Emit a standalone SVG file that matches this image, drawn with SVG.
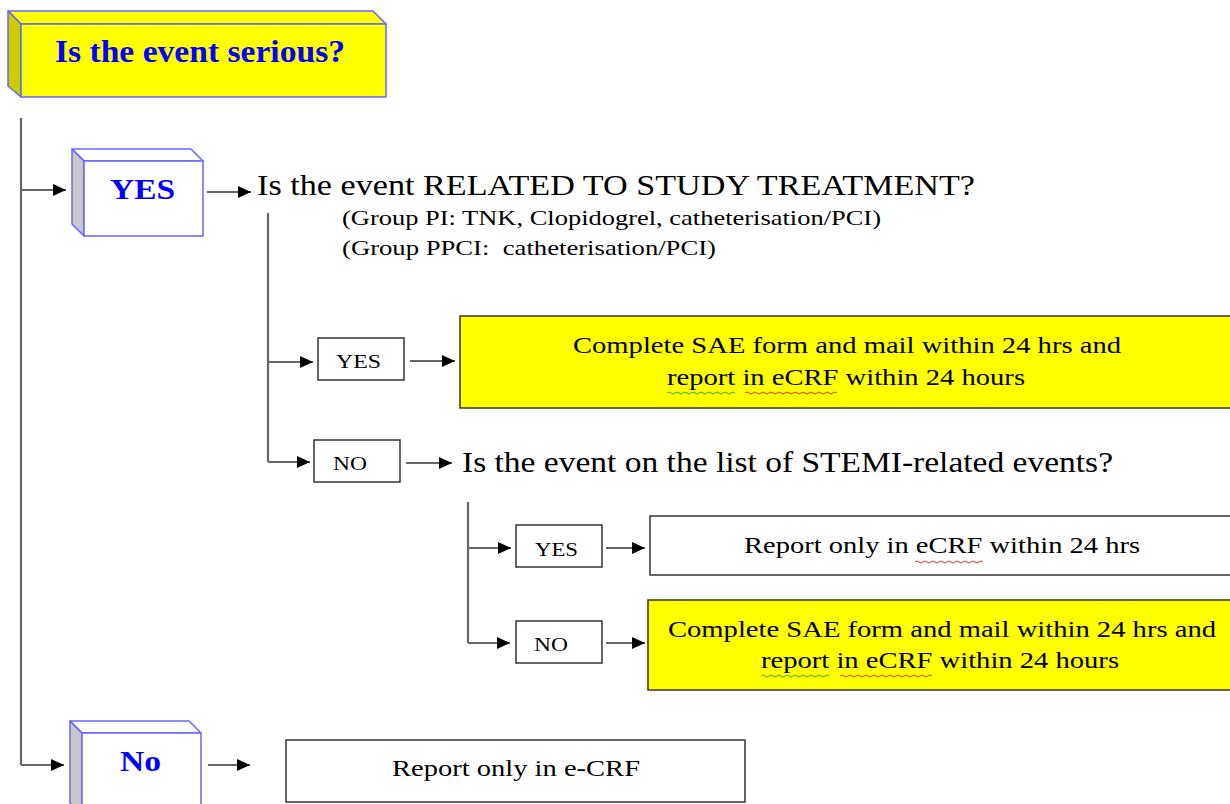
<svg xmlns="http://www.w3.org/2000/svg" width="1230" height="804" viewBox="0 0 1230 804">
<defs>
<style>
.t{font-family:"Liberation Serif","DejaVu Serif",serif;fill:#000}
.b{font-family:"Liberation Serif","DejaVu Serif",serif;font-weight:bold;fill:#0000ff}
.c{stroke:#666;stroke-width:2.2;fill:none}
.ca{stroke:#666;stroke-width:2.2;fill:none;marker-end:url(#ah)}
.bx{fill:#fff;stroke:#333;stroke-width:1.5}
.yb{fill:#ffff00;stroke:#333;stroke-width:1.5}
.f3{stroke:#6666ff;stroke-width:1.5;stroke-linejoin:round}
.sqr{fill:none;stroke:#e03030;stroke-width:1}
.sqg{fill:none;stroke:#40a040;stroke-width:1}
</style>
<marker id="ah" markerUnits="userSpaceOnUse" markerWidth="13" markerHeight="12" refX="13" refY="6" orient="auto">
<path d="M0,0 L13,6 L0,12 z" fill="#000"/>
</marker>
</defs>
<rect width="1230" height="804" fill="#fff"/>

<g id="connectors">
<path class="c" d="M21,118 V765"/>
<path class="ca" d="M21,190 H66"/>
<path class="ca" d="M21,765 H64"/>
<path class="ca" d="M207,192 H251"/>
<path class="ca" d="M208,765 H250"/>
<path class="c" d="M268,213 V462"/>
<path class="ca" d="M268,362 H313"/>
<path class="ca" d="M268,462 H310"/>
<path class="ca" d="M410,361 H455"/>
<path class="ca" d="M406,463 H452"/>
<path class="c" d="M468,502 V643"/>
<path class="ca" d="M468,548 H511"/>
<path class="ca" d="M468,643 H510"/>
<path class="ca" d="M606,548 H645"/>
<path class="ca" d="M606,643 H645"/>
</g>

<g id="n-serious">
<polygon class="f3" fill="#ffff00" points="8,11 373,11 386,24 21,24"/>
<polygon class="f3" fill="#cccc00" points="8,11 21,24 21,97 8,86"/>
<rect class="f3" fill="#ffff00" x="21" y="24" width="365" height="73"/>
<text class="b" x="55" y="62" font-size="31" textLength="290" lengthAdjust="spacingAndGlyphs">Is the event serious?</text>
</g>

<g id="n-yes1">
<polygon class="f3" fill="#fff" points="72,149 191,149 203,161 84,161"/>
<polygon class="f3" fill="#c8c8c8" points="72,149 84,161 84,236 72,224"/>
<rect class="f3" fill="#fff" x="84" y="161" width="119" height="75"/>
<text class="b" x="110" y="199" font-size="30" textLength="65" lengthAdjust="spacingAndGlyphs">YES</text>
</g>

<g id="n-related">
<text class="t" x="257" y="195" font-size="29" textLength="718" lengthAdjust="spacingAndGlyphs">Is the event RELATED TO STUDY TREATMENT?</text>
<text class="t" x="342" y="225" font-size="21" textLength="539" lengthAdjust="spacingAndGlyphs">(Group PI: TNK, Clopidogrel, catheterisation/PCI)</text>
<text class="t" x="342" y="255" font-size="21" textLength="374" lengthAdjust="spacingAndGlyphs" xml:space="preserve">(Group PPCI:  catheterisation/PCI)</text>
</g>

<g id="n-yes2">
<rect class="bx" x="318" y="338" width="86" height="42"/>
<text class="t" x="336" y="368" font-size="19" textLength="45" lengthAdjust="spacingAndGlyphs">YES</text>
</g>

<g id="n-sae1">
<rect class="yb" x="460" y="316" width="790" height="92"/>
<text class="t" x="573" y="353" font-size="24" textLength="548" lengthAdjust="spacingAndGlyphs">Complete SAE form and mail within 24 hrs and</text>
<text class="t" x="667" y="385" font-size="24" textLength="358" lengthAdjust="spacingAndGlyphs">report in eCRF within 24 hours</text>
<path class="sqg" d="M667,393 q2,-2 4,0 t4,0 t4,0 t4,0 t4,0 t4,0 t4,0 t4,0 t4,0 t4,0 t4,0 t4,0 t4,0 t4,0 t4,0 t4,0 t4,0"/>
<path class="sqr" d="M745,393 q2,-2 4,0 t4,0 t4,0 t4,0 t4,0 t4,0 t4,0 t4,0 t4,0 t4,0 t4,0 t4,0 t4,0 t4,0 t4,0 t4,0 t4,0 t4,0 t4,0 t4,0 t4,0 t4,0 t4,0"/>
</g>

<g id="n-no2">
<rect class="bx" x="314" y="440" width="86" height="42"/>
<text class="t" x="333" y="470" font-size="19" textLength="34" lengthAdjust="spacingAndGlyphs">NO</text>
</g>

<g id="n-stemi">
<text class="t" x="462" y="472" font-size="29" textLength="651" lengthAdjust="spacingAndGlyphs">Is the event on the list of STEMI-related events?</text>
</g>

<g id="n-yes3">
<rect class="bx" x="516" y="525" width="86" height="42"/>
<text class="t" x="535" y="556" font-size="19" textLength="43" lengthAdjust="spacingAndGlyphs">YES</text>
</g>

<g id="n-report1">
<rect class="bx" x="650" y="516" width="600" height="59"/>
<text class="t" x="744" y="553" font-size="24" textLength="396" lengthAdjust="spacingAndGlyphs">Report only in eCRF within 24 hrs</text>
<path class="sqr" d="M915,562 q2,-2 4,0 t4,0 t4,0 t4,0 t4,0 t4,0 t4,0 t4,0 t4,0 t4,0 t4,0 t4,0 t4,0 t4,0 t4,0 t4,0 t4,0"/>
</g>

<g id="n-no3">
<rect class="bx" x="516" y="621" width="86" height="42"/>
<text class="t" x="534" y="651" font-size="19" textLength="34" lengthAdjust="spacingAndGlyphs">NO</text>
</g>

<g id="n-sae2">
<rect class="yb" x="648" y="600" width="602" height="90"/>
<text class="t" x="668" y="637" font-size="24" textLength="548" lengthAdjust="spacingAndGlyphs">Complete SAE form and mail within 24 hrs and</text>
<text class="t" x="761" y="668" font-size="24" textLength="358" lengthAdjust="spacingAndGlyphs">report in eCRF within 24 hours</text>
<path class="sqg" d="M761,676 q2,-2 4,0 t4,0 t4,0 t4,0 t4,0 t4,0 t4,0 t4,0 t4,0 t4,0 t4,0 t4,0 t4,0 t4,0 t4,0 t4,0 t4,0"/>
<path class="sqr" d="M840,676 q2,-2 4,0 t4,0 t4,0 t4,0 t4,0 t4,0 t4,0 t4,0 t4,0 t4,0 t4,0 t4,0 t4,0 t4,0 t4,0 t4,0 t4,0 t4,0 t4,0 t4,0 t4,0 t4,0 t4,0"/>
</g>

<g id="n-no1">
<polygon class="f3" fill="#fff" points="70,721 189,721 201,733 82,733"/>
<polygon class="f3" fill="#c8c8c8" points="70,721 82,733 82,815 70,803"/>
<rect class="f3" fill="#fff" x="82" y="733" width="119" height="82"/>
<text class="b" x="120" y="771" font-size="30" textLength="41" lengthAdjust="spacingAndGlyphs">No</text>
</g>

<g id="n-report2">
<rect class="bx" x="286" y="740" width="459" height="62"/>
<text class="t" x="392" y="776" font-size="24" textLength="248" lengthAdjust="spacingAndGlyphs">Report only in e-CRF</text>
</g>
</svg>
